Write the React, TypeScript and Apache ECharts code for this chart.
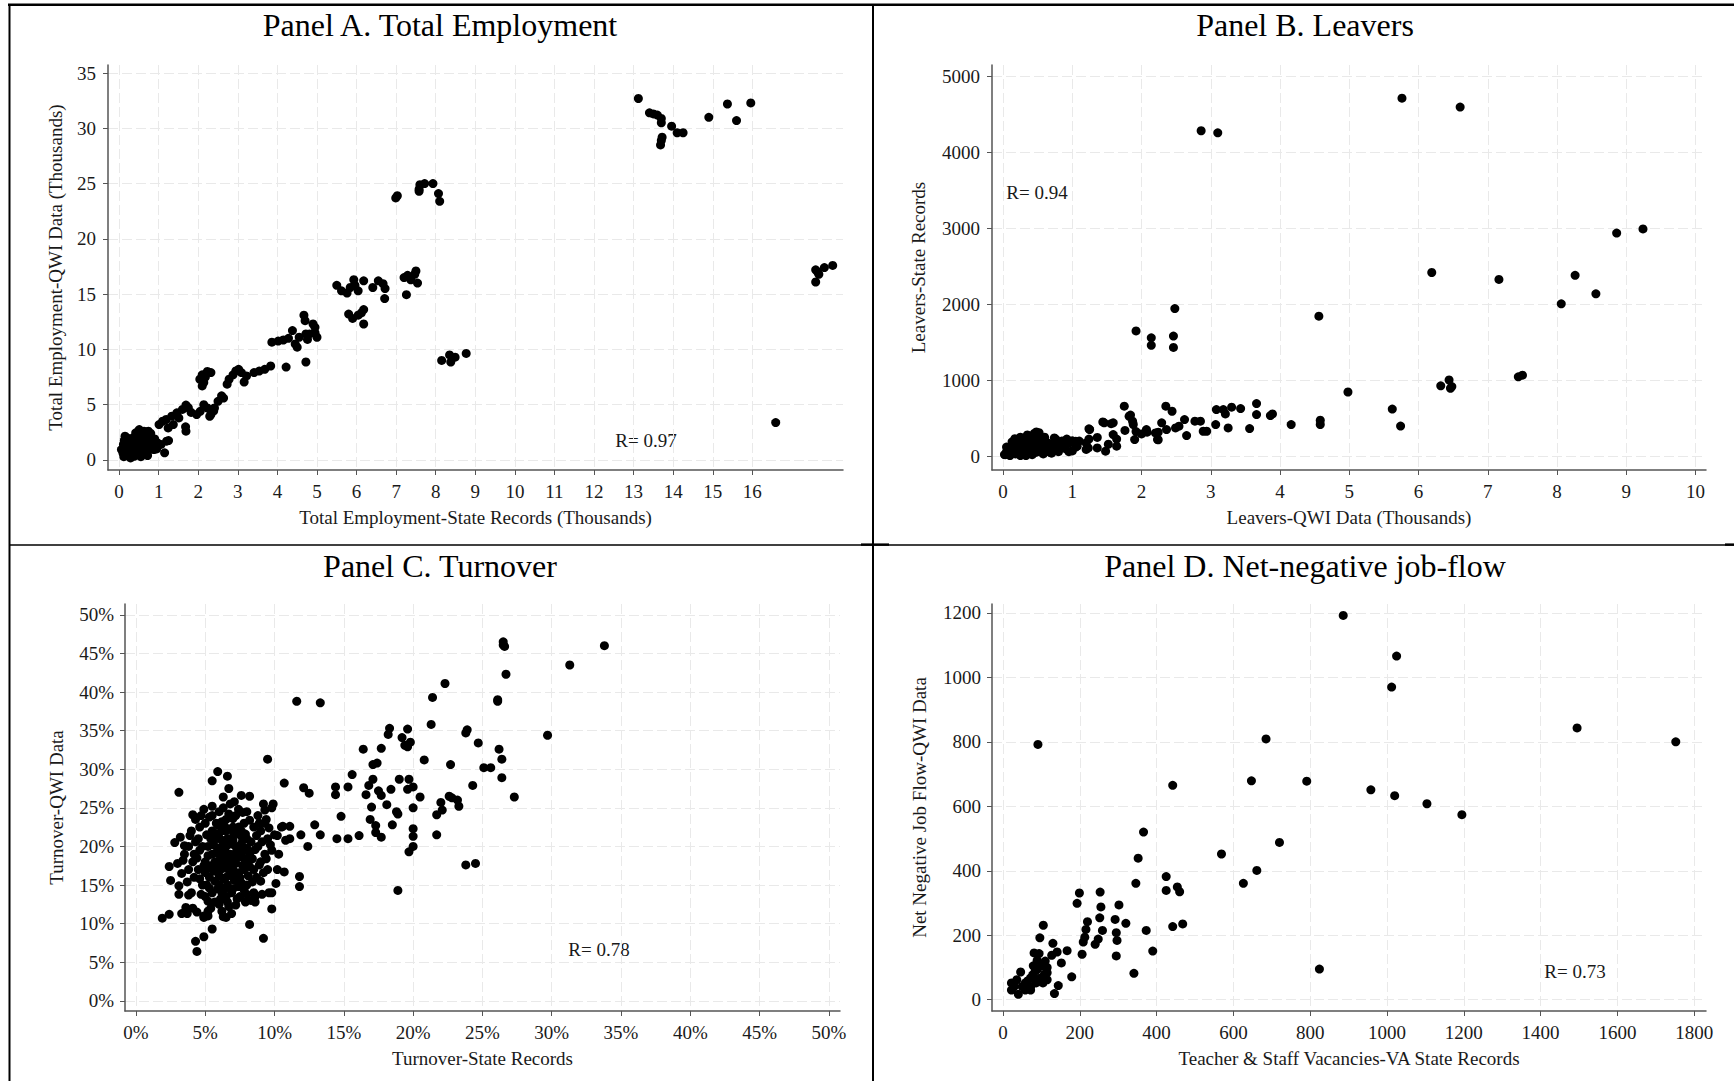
import React, { useEffect, useRef } from "react";
import * as echarts from "echarts";

// ---- Panel A: Total Employment (thousands) [state records, QWI] ----
const panelAData: number[][] = [
  [13.12, 32.7], [13.4, 31.4], [13.5, 31.3], [13.6, 31.2], [13.7, 30.9], [13.7, 30.5],
  [13.72, 29.2], [13.7, 28.9], [13.68, 28.5], [13.96, 30.2], [14.1, 29.6], [14.25, 29.6],
  [14.9, 31.0], [15.37, 32.2], [15.6, 30.7], [15.96, 32.3],
  [17.6, 17.2], [17.6, 16.1], [17.68, 16.8], [17.82, 17.4], [18.03, 17.6], [17.65, 17.0],
  [16.59, 3.38],
  [6.99, 23.7], [7.03, 23.9], [7.58, 24.5], [7.6, 24.9], [7.72, 25.0], [7.93, 25.0],
  [7.58, 24.3], [8.07, 24.1], [8.1, 23.4],
  [5.5, 15.8], [5.62, 15.3], [5.76, 15.1], [5.84, 15.6], [5.93, 16.3], [5.96, 15.8],
  [6.04, 15.3], [6.18, 16.2], [6.41, 15.6], [6.55, 16.2], [6.67, 15.95], [6.72, 15.5],
  [6.71, 14.6], [5.8, 13.2], [5.9, 12.8], [6.04, 13.1], [6.18, 13.6], [6.12, 13.3],
  [6.18, 12.3], [7.2, 16.5], [7.29, 16.7], [7.47, 16.8], [7.5, 17.1], [7.54, 16.0],
  [7.26, 14.95], [7.37, 16.3],
  [8.15, 9.0], [8.35, 9.5], [8.38, 8.85], [8.49, 9.3], [8.77, 9.64],
  [3.86, 10.65], [4.02, 10.75], [4.15, 10.85], [4.28, 11.0], [4.38, 11.7], [4.45, 10.5],
  [4.5, 10.2], [4.55, 11.1], [4.67, 13.1], [4.7, 12.6], [4.72, 11.4], [4.76, 10.9],
  [4.81, 11.4], [4.9, 12.3], [4.95, 12.0], [4.95, 11.5], [5.0, 11.1], [4.72, 8.86], [4.22, 8.4],
  [2.73, 6.85], [2.78, 7.3], [2.88, 7.7], [2.95, 8.05], [3.02, 8.2], [3.09, 7.9],
  [3.16, 7.05], [3.22, 7.6], [3.41, 7.9], [3.54, 8.04], [3.68, 8.2], [3.83, 8.5],
  [2.04, 7.3], [2.1, 7.7], [2.14, 7.0], [2.1, 6.7], [2.23, 8.0], [2.32, 7.9], [2.18, 7.5],
  [1.96, 4.1], [2.05, 4.4], [2.14, 5.0], [2.23, 4.7], [2.32, 4.1], [2.41, 4.7], [2.5, 5.3],
  [2.59, 5.8], [2.64, 5.6], [2.29, 3.95], [2.39, 4.43],
  [1.01, 3.2], [1.1, 3.5], [1.19, 3.66], [1.33, 3.96], [1.46, 4.26], [1.6, 4.57],
  [1.69, 4.96], [1.75, 4.72], [1.69, 2.6], [1.68, 3.0], [1.51, 3.8], [1.37, 3.2],
  [1.24, 2.9], [1.82, 4.3], [1.2, 1.7], [1.15, 0.64], [1.06, 1.4], [1.25, 1.75],
  [0.06, 0.94], [0.15, 2.15], [0.2, 0.48], [0.29, 0.18], [0.33, 1.7], [0.42, 2.45],
  [0.47, 1.4], [0.51, 2.75], [0.56, 0.79], [0.65, 2.45], [0.7, 2.0], [0.74, 2.6],
  [0.79, 1.4], [0.88, 0.94], [0.97, 1.54], [0.11, 1.4], [0.24, 1.09], [0.38, 0.33],
  [0.6, 1.09], [0.83, 2.0], [0.1, 0.6], [0.15, 1.0], [0.2, 1.6], [0.25, 0.7], [0.3, 1.2],
  [0.35, 2.0], [0.4, 0.9], [0.45, 0.5], [0.5, 1.8], [0.55, 1.3], [0.6, 2.3], [0.65, 0.6],
  [0.7, 1.5], [0.75, 0.9], [0.8, 2.4], [0.9, 1.3], [0.25, 1.9], [0.35, 0.6], [0.45, 2.2],
  [0.55, 0.3], [0.12, 0.3], [0.2, 2.0], [0.4, 1.5], [0.3, 0.9], [0.5, 1.0], [0.62, 1.7],
  [0.72, 0.4], [0.85, 1.7], [0.95, 1.0], [0.18, 1.25], [0.28, 1.55], [0.37, 1.15],
  [0.43, 1.85], [0.52, 0.6], [0.58, 2.0], [0.67, 1.25], [0.77, 1.9], [0.16, 0.75],
  [0.27, 0.4], [0.48, 2.55], [0.63, 2.6], [0.13, 1.75], [0.9, 1.9],
];

// ---- Panel B: Leavers [QWI thousands, state records] ----
const panelBData: number[][] = [
  [2.86, 4282], [3.1, 4255], [5.76, 4711], [6.6, 4594], [9.24, 2990], [8.86, 2936],
  [8.26, 2380], [8.56, 2137], [8.06, 2005], [7.16, 2326], [6.19, 2417], [4.56, 1843],
  [2.48, 1942], [1.92, 1649], [2.14, 1558], [2.14, 1459], [2.46, 1581], [2.46, 1432],
  [7.44, 1045], [7.5, 1066], [6.32, 926], [6.44, 1003], [6.46, 894], [6.48, 917],
  [4.98, 845], [5.62, 620], [5.74, 397], [4.58, 474], [4.58, 416], [4.16, 416],
  [3.66, 693], [3.66, 548], [3.86, 535], [3.89, 557], [3.56, 364], [3.43, 627], [3.3, 645],
  [3.21, 557], [3.18, 614], [3.25, 373], [3.08, 614], [3.07, 417], [2.94, 329], [2.89, 329],
  [2.85, 461], [2.77, 461], [2.65, 272], [2.62, 482], [2.54, 395], [2.49, 373], [2.44, 592],
  [2.35, 658], [2.36, 351], [2.29, 439], [2.23, 219], [2.2, 307], [2.07, 351], [1.9, 219],
  [1.88, 417], [1.87, 461], [1.82, 526], [1.75, 658], [1.64, 132], [1.59, 285], [1.59, 439],
  [1.48, 66], [1.46, 439], [1.36, 110], [1.25, 351], [1.23, 110], [1.2, 175], [1.07, 132],
  [1.05, 197], [0.92, 219], [0.89, 154], [0.74, 241], [0.75, 154], [0.63, 132], [0.58, 110],
  [0.48, 320], [0.43, 263], [0.32, 241], [0.27, 175], [0.2, 197], [0.14, 132], [0.07, 44],
  [0.02, 22], [2.0, 294], [1.92, 325], [1.84, 542], [1.76, 339], [1.64, 226], [1.56, 429],
  [1.44, 452], [1.24, 361], [1.52, 158], [1.36, 248], [1.2, 90], [1.24, 226], [1.0, 203],
  [0.92, 226], [0.76, 226], [0.88, 136], [0.72, 90], [0.56, 136], [2.24, 316], [2.24, 217],
  [2.08, 316],
  [0.03, 20], [0.05, 60], [0.08, 30], [0.1, 100], [0.1, 10], [0.12, 50], [0.15, 150],
  [0.15, 80], [0.18, 30], [0.2, 200], [0.2, 120], [0.22, 60], [0.25, 250], [0.25, 10],
  [0.28, 160], [0.3, 90], [0.3, 220], [0.32, 40], [0.35, 280], [0.35, 130], [0.38, 70],
  [0.4, 190], [0.42, 20], [0.45, 300], [0.45, 110], [0.48, 240], [0.5, 60], [0.5, 160],
  [0.52, 310], [0.55, 100], [0.55, 200], [0.58, 30], [0.6, 140], [0.62, 80], [0.65, 170],
  [0.68, 50], [0.7, 120], [0.75, 180], [0.8, 60], [0.82, 140], [0.85, 200], [0.9, 100],
  [0.95, 170], [1.0, 70], [1.05, 120], [1.1, 200], [0.05, 120], [0.13, 190], [0.27, 110],
  [0.33, 10], [0.4, 250], [0.6, 250], [0.7, 40], [0.95, 60], [0.17, 230], [0.23, 90],
  [0.37, 200], [0.43, 150], [0.47, 50], [0.53, 250], [0.62, 190], [0.78, 100],
];

// ---- Panel C: Turnover, percent [state records, QWI] ----
const panelCData: number[][] = [
  [33.8, 46.0], [26.5, 46.5], [26.5, 46.1], [26.6, 45.9], [31.3, 43.5], [26.7, 42.3],
  [22.3, 41.1], [21.4, 39.3], [26.1, 39.0], [26.1, 38.8], [11.6, 38.8], [13.3, 38.6],
  [21.3, 35.8], [18.3, 35.3], [19.6, 35.2], [23.9, 35.1], [23.8, 34.7], [18.2, 34.5],
  [29.7, 34.4], [19.2, 34.1], [19.8, 33.5], [19.4, 33.1], [19.6, 32.9], [24.7, 33.4],
  [16.4, 32.6], [17.7, 32.7], [26.2, 32.6], [26.4, 31.3], [20.8, 31.2], [22.7, 30.6],
  [17.1, 30.6], [17.4, 30.8], [25.1, 30.2], [25.6, 30.2], [26.4, 28.9], [24.3, 27.9],
  [15.6, 29.3], [17.1, 28.7], [19.0, 28.7], [19.7, 28.7], [20.0, 27.7], [16.8, 27.9],
  [15.3, 27.7], [14.4, 27.7], [14.4, 26.7], [18.4, 27.4], [19.6, 27.4], [17.5, 27.2],
  [17.7, 26.6], [16.6, 26.7], [20.5, 26.4], [22.6, 26.5], [22.8, 26.3], [23.2, 26.0],
  [27.3, 26.4], [22.0, 25.7], [22.1, 24.7], [23.3, 25.2], [20.0, 25.0], [18.1, 25.4],
  [17.0, 25.1], [18.9, 24.2], [18.8, 24.5], [21.7, 24.1], [14.8, 23.9], [16.9, 23.5],
  [17.3, 22.7], [18.5, 22.8], [20.0, 22.3], [20.0, 21.3], [21.7, 21.5], [17.3, 21.8],
  [17.7, 21.2], [16.1, 21.4], [15.3, 21.0], [14.5, 21.0], [13.3, 21.5], [12.9, 22.8],
  [12.5, 26.9], [12.1, 27.6], [10.7, 28.2], [9.5, 31.3], [11.9, 21.5], [12.4, 20.0],
  [20.0, 20.0], [19.7, 19.3], [11.8, 16.1], [11.8, 14.8], [18.9, 14.3], [23.8, 17.6],
  [24.5, 17.8], [11.1, 22.6], [10.6, 22.6], [10.2, 21.4], [11.1, 21.0], [10.7, 16.7],
  [1.9, 10.7], [2.4, 11.2], [2.4, 17.4], [2.5, 15.6], [2.8, 20.5], [3.1, 27.0], [3.1, 14.9],
  [3.1, 13.8], [3.5, 20.1], [3.3, 11.3], [3.6, 12.1], [3.7, 11.3], [4.1, 24.1], [4.3, 7.7],
  [4.4, 6.4], [4.9, 8.3], [5.5, 9.3], [5.5, 28.5], [5.9, 29.7], [6.6, 29.1], [6.7, 27.5],
  [6.3, 26.4], [7.6, 26.6], [8.2, 26.5], [8.2, 9.9], [9.2, 8.1], [9.8, 11.9], [9.8, 14.0],
  [10.1, 15.2], [9.9, 25.5], [9.4, 23.5], [9.3, 24.7], [6.5, 10.8], [6.2, 11.6], [6.9, 11.3],
  [4.9, 11.0], [5.2, 11.6], [5.4, 12.0], [5.2, 12.9],
  [4.0, 22.0], [4.2, 19.0], [4.5, 17.0], [4.5, 21.0], [4.8, 15.0], [5.0, 23.0], [5.0, 18.0],
  [5.0, 13.5], [5.2, 20.0], [5.3, 16.0], [5.5, 24.0], [5.5, 22.0], [5.5, 19.0], [5.5, 14.0],
  [5.8, 17.0], [5.8, 21.0], [6.0, 24.5], [6.0, 19.0], [6.0, 15.0], [6.0, 12.5], [6.2, 22.0],
  [6.2, 17.5], [6.3, 20.5], [6.5, 23.5], [6.5, 18.0], [6.5, 16.0], [6.5, 13.5], [6.8, 21.0],
  [6.8, 19.0], [6.8, 25.5], [7.0, 17.0], [7.0, 22.5], [7.0, 14.5], [7.2, 20.0], [7.2, 24.0],
  [7.3, 18.5], [7.5, 16.0], [7.5, 21.5], [7.5, 13.5], [7.8, 19.5], [7.8, 23.0], [8.0, 17.5],
  [8.0, 15.0], [8.0, 21.0], [8.0, 24.5], [8.2, 19.0], [8.3, 13.0], [8.5, 22.5], [8.5, 17.0],
  [8.5, 14.0], [8.8, 20.0], [8.8, 24.0], [9.0, 18.0], [9.0, 22.0], [9.0, 15.5], [9.3, 19.0],
  [9.3, 23.0], [9.5, 21.0], [9.5, 17.0], [9.8, 19.5], [9.8, 25.0], [10.0, 21.5], [10.3, 19.0],
  [10.5, 22.5], [3.8, 17.0], [3.8, 20.0], [4.0, 14.0], [4.3, 23.5], [3.5, 19.0], [3.3, 16.5],
  [4.6, 19.5], [5.7, 15.5], [6.1, 17.0], [6.6, 21.0], [7.1, 19.0], [7.4, 22.5], [7.7, 17.5],
  [8.1, 18.2], [5.1, 21.5], [5.4, 17.5], [6.4, 14.5], [4.1, 12.0], [3.8, 13.7], [9.6, 14.0],
  [6.9, 16.2], [5.9, 22.8], [7.6, 20.3], [4.7, 24.0], [8.7, 16.0], [10.2, 17.0], [9.2, 25.5],
  [10.8, 20.8], [5.2, 11.0], [4.4, 11.5], [6.7, 12.2], [8.6, 13.5], [9.1, 13.8], [4.9, 10.8],
  [6.3, 10.9],
  [4.2, 16.0], [4.4, 18.5], [4.6, 22.5], [4.8, 20.0], [4.9, 17.5], [5.1, 15.0], [5.2, 18.8],
  [5.3, 23.8], [5.4, 21.0], [5.6, 16.8], [5.6, 20.2], [5.7, 18.0], [5.8, 23.0], [5.9, 14.5],
  [5.9, 19.8], [6.0, 16.2], [6.0, 21.7], [6.1, 18.4], [6.2, 14.0], [6.2, 23.2], [6.3, 15.8],
  [6.3, 19.2], [6.4, 17.2], [6.4, 22.6], [6.5, 20.0], [6.6, 15.0], [6.6, 18.8], [6.7, 17.0],
  [6.7, 24.2], [6.8, 16.5], [6.8, 22.2], [6.9, 20.3], [6.9, 14.0], [7.0, 18.2], [7.0, 23.6],
  [7.1, 15.6], [7.1, 21.6], [7.2, 17.8], [7.3, 13.2], [7.3, 19.8], [7.4, 16.6], [7.4, 24.8],
  [7.5, 18.8], [7.6, 15.3], [7.6, 22.0], [7.7, 20.8], [7.8, 14.4], [7.8, 17.0], [7.9, 21.6],
  [8.0, 19.8], [8.1, 16.2], [8.2, 23.4], [8.3, 20.6], [8.4, 18.4], [8.4, 15.4], [8.6, 19.6],
  [8.7, 21.4], [8.9, 17.6], [8.9, 23.0], [9.1, 20.6], [9.2, 16.6], [9.4, 18.4], [9.6, 22.4],
  [9.7, 20.2], [5.0, 16.6], [4.7, 13.8], [4.3, 20.6], [4.1, 18.0], [3.9, 21.4], [3.7, 15.4],
  [3.4, 18.2], [3.2, 21.2], [3.0, 17.8], [4.6, 15.8], [5.3, 14.6], [5.7, 12.8], [6.1, 13.2],
  [6.6, 12.8], [7.2, 12.4], [7.9, 12.8], [8.6, 12.8], [5.5, 25.2], [6.3, 25.0], [7.1, 25.8],
  [7.7, 24.4], [4.9, 24.8], [5.2, 17.2], [5.8, 19.2], [6.4, 19.6], [7.0, 20.8], [7.6, 19.2],
  [8.2, 17.4], [6.8, 17.8], [6.2, 20.8], [5.6, 21.8], [7.4, 14.8], [8.0, 13.8], [6.5, 22.0],
  [5.9, 17.6], [7.8, 18.4],
];

// ---- Panel D: Net-negative job-flow [VA vacancies, QWI] ----
const panelDData: number[][] = [
  [886, 1192], [1025, 1066], [1012, 970], [1495, 843], [1752, 800], [91, 792], [685, 809],
  [442, 665], [647, 679], [791, 678], [958, 651], [1020, 633], [1104, 608], [1195, 574],
  [366, 520], [352, 439], [569, 452], [720, 488], [661, 401], [626, 361], [346, 361],
  [425, 382], [425, 339], [454, 350], [460, 335], [442, 227], [468, 235], [373, 215],
  [390, 151], [341, 82], [824, 95], [320, 237], [302, 294], [292, 249], [295, 208],
  [297, 184], [295, 136], [253, 334], [255, 288], [252, 254], [259, 215], [248, 188],
  [240, 172], [199, 331], [193, 299], [220, 242], [216, 218], [213, 194], [209, 179],
  [206, 141], [179, 71], [167, 152], [152, 114], [144, 44], [134, 19], [141, 148], [130, 175],
  [127, 138], [105, 231], [96, 192], [94, 143], [81, 145], [115, 100], [115, 84], [115, 62],
  [101, 105], [84, 89], [72, 68], [58, 52], [46, 86], [36, 62], [22, 52], [22, 30], [40, 17],
  [58, 30], [72, 41], [86, 52], [79, 105], [94, 62], [50, 41], [108, 79], [98, 68], [72, 30],
  [29, 41], [89, 122], [104, 52], [64, 58], [78, 78], [110, 120], [90, 95],
];

// ---- Tick values ----
const aXTicks = [0, 1, 2, 3, 4, 5, 6, 7, 8, 9, 10, 11, 12, 13, 14, 15, 16];
const aYTicks = [0, 5, 10, 15, 20, 25, 30, 35];
const bXTicks = [0, 1, 2, 3, 4, 5, 6, 7, 8, 9, 10];
const bYTicks = [0, 1000, 2000, 3000, 4000, 5000];
const cXTicks = [0, 5, 10, 15, 20, 25, 30, 35, 40, 45, 50];
const cYTicks = [0, 5, 10, 15, 20, 25, 30, 35, 40, 45, 50];
const dXTicks = [0, 200, 400, 600, 800, 1000, 1200, 1400, 1600, 1800];
const dYTicks = [0, 200, 400, 600, 800, 1000, 1200];

const panelTitles = [
  "Panel A. Total Employment",
  "Panel B. Leavers",
  "Panel C. Turnover",
  "Panel D. Net-negative job-flow",
];
const xTitles = [
  "Total Employment-State Records (Thousands)",
  "Leavers-QWI Data (Thousands)",
  "Turnover-State Records",
  "Teacher & Staff Vacancies-VA State Records",
];
const yTitles = [
  "Total Employment-QWI Data (Thousands)",
  "Leavers-State Records",
  "Turnover-QWI Data",
  "Net Negative Job Flow-QWI Data",
];
const rLabels = ["R= 0.97", "R= 0.94", "R= 0.78", "R= 0.73"];

const FONT = '"Liberation Serif", "Times New Roman", serif';
const TEXT = "#1a1a1a";
const AXIS = "#555555";

function valueAxis(
  gridIndex: number,
  min: number,
  max: number,
  ticks: number[],
  name: string,
  nameGap: number,
  labelMargin: number,
  fmt?: (v: number) => string
) {
  return {
    type: "value",
    gridIndex,
    min,
    max,
    name,
    nameLocation: "middle",
    nameGap,
    nameTextStyle: { fontFamily: FONT, fontSize: 19, color: TEXT },
    axisLine: { show: true, onZero: false, lineStyle: { color: AXIS, width: 1.5 } },
    axisTick: {
      show: true,
      inside: false,
      length: 5,
      customValues: ticks,
      lineStyle: { color: AXIS, width: 1 },
    },
    axisLabel: {
      customValues: ticks,
      margin: labelMargin,
      fontFamily: FONT,
      fontSize: 19,
      color: TEXT,
      formatter: fmt ? (v: number) => fmt(v) : (v: number) => String(v),
    },
    splitLine: {
      show: true,
      lineStyle: { color: "#e9e9e9", width: 1, type: [10, 4] },
    },
  };
}

const pct = (v: number) => `${Math.round(v)}%`;

export default function App() {
  const ref = useRef<HTMLDivElement>(null);

  useEffect(() => {
    document.body.style.margin = "0";
    document.body.style.overflow = "hidden";
    if (!ref.current) return;
    const chart = echarts.init(ref.current, undefined, { renderer: "svg" });

    const grids = [
      { left: 108, top: 65, width: 735, height: 405 },
      { left: 992, top: 65, width: 714, height: 405 },
      { left: 125, top: 604, width: 715, height: 407 },
      { left: 992, top: 604, width: 714, height: 407 },
    ];

    const titleCenters = [
      [440, 25],
      [1305, 25],
      [440, 566],
      [1305, 566],
    ];
    const rPos = [
      [646, 440],
      [1037, 192],
      [599, 949],
      [1575, 971],
    ];

    const graphics: any[] = [];
    // frame lines around the four panels
    const frame = (x1: number, y1: number, x2: number, y2: number, w: number) =>
      graphics.push({
        type: "line",
        silent: true,
        shape: { x1, y1, x2, y2 },
        style: { stroke: "#000", lineWidth: w },
      });
    frame(8, 4.7, 1734, 4.7, 2.4);
    frame(9.5, 4, 9.5, 1081, 2);
    frame(873, 4, 873, 1081, 2);
    frame(9, 545, 1734, 545, 1.3);
    frame(861, 544.6, 889, 544.6, 2.4);
    frame(1725, 544.6, 1734, 544.6, 2.4);

    panelTitles.forEach((t, i) => {
      graphics.push({
        type: "text",
        silent: true,
        x: titleCenters[i][0],
        y: titleCenters[i][1],
        style: {
          text: t,
          fontFamily: FONT,
          fontSize: 32,
          fill: "#000",
          textAlign: "center",
          textVerticalAlign: "middle",
        },
      });
    });
    rLabels.forEach((t, i) => {
      graphics.push({
        type: "text",
        silent: true,
        x: rPos[i][0],
        y: rPos[i][1],
        style: {
          text: t,
          fontFamily: FONT,
          fontSize: 19,
          fill: TEXT,
          textAlign: "center",
          textVerticalAlign: "middle",
        },
      });
    });

    const scatter = (idx: number, data: number[][]) => ({
      type: "scatter",
      xAxisIndex: idx,
      yAxisIndex: idx,
      data,
      symbol: "circle",
      symbolSize: 9,
      itemStyle: { color: "#000", opacity: 1 },
      silent: true,
    });

    chart.setOption({
      animation: false,
      backgroundColor: "#ffffff",
      textStyle: { fontFamily: FONT, color: TEXT },
      grid: grids.map((g) => ({ ...g, containLabel: false })),
      xAxis: [
        valueAxis(0, -0.28, 18.29, aXTicks, xTitles[0], 38, 12),
        valueAxis(1, -0.16, 10.15, bXTicks, xTitles[1], 38, 12),
        valueAxis(2, -0.79, 50.8, cXTicks, xTitles[2], 38, 12, pct),
        valueAxis(3, -28.6, 1830.7, dXTicks, xTitles[3], 38, 12),
      ],
      yAxis: [
        valueAxis(0, -0.91, 35.73, aYTicks, yTitles[0], 43, 12),
        valueAxis(1, -181, 5147, bYTicks, yTitles[1], 64, 12),
        valueAxis(2, -1.32, 51.4, cYTicks, yTitles[2], 59, 11, pct),
        valueAxis(3, -35, 1227.6, dYTicks, yTitles[3], 63, 11),
      ],
      series: [
        scatter(0, panelAData),
        scatter(1, panelBData),
        scatter(2, panelCData),
        scatter(3, panelDData),
      ],
      graphic: graphics,
    });

    return () => chart.dispose();
  }, []);

  return (
    <div
      ref={ref}
      style={{ position: "absolute", left: 0, top: 0, width: 1734, height: 1081, background: "#fff" }}
    />
  );
}
